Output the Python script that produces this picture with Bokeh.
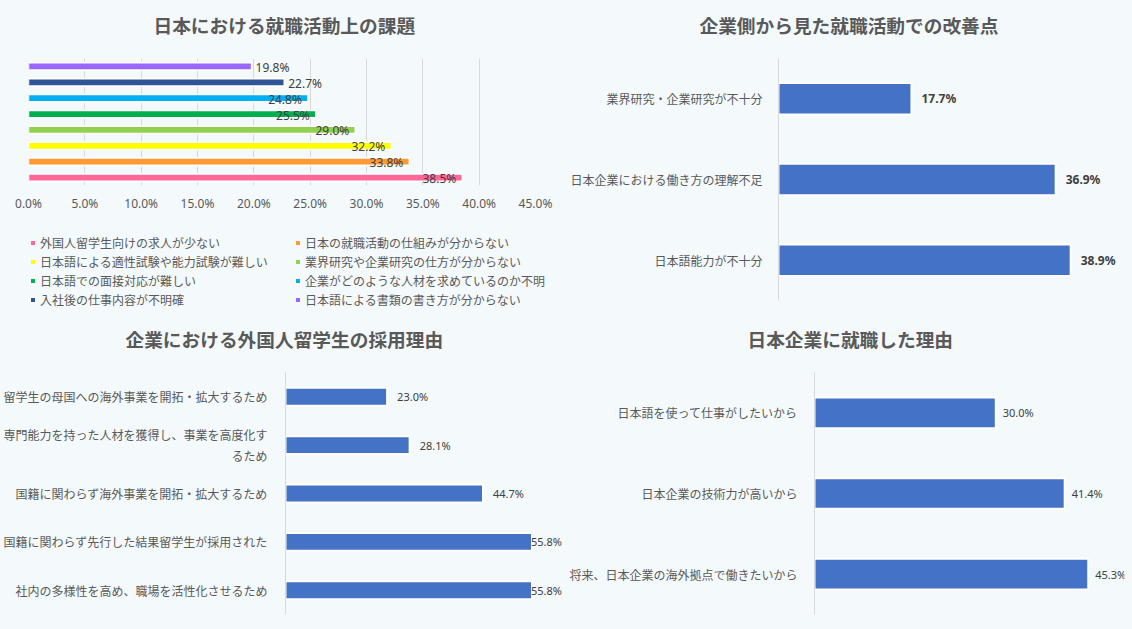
from bokeh.plotting import figure
from bokeh.models import ColumnDataSource, Legend, LegendItem, Title, FixedTicker, Range1d, FactorRange
from bokeh.layouts import row, column
from bokeh.embed import file_html
from bokeh.resources import INLINE
from bokeh.core.properties import value

BG = "#F4F9FC"
JP = "Noto Sans CJK JP"
NUM = "Noto Sans"
GRAY = "#595959"
DARK = "#404040"
BLUE = "#4472C4"

# ---------------- data ----------------
c1_title = "日本における就職活動上の課題"
c1_labels = [
    "外国人留学生向けの求人が少ない",
    "日本の就職活動の仕組みが分からない",
    "日本語による適性試験や能力試験が難しい",
    "業界研究や企業研究の仕方が分からない",
    "日本語での面接対応が難しい",
    "企業がどのような人材を求めているのか不明",
    "入社後の仕事内容が不明確",
    "日本語による書類の書き方が分からない",
]
c1_values = [38.5, 33.8, 32.2, 29.0, 25.5, 24.8, 22.7, 19.8]
c1_colors = ["#FF6699", "#FF9933", "#FFFF00", "#92D050", "#00B050", "#00B0F0", "#2F5597", "#9966FF"]
c1_ticks = [0, 5, 10, 15, 20, 25, 30, 35, 40, 45]

c2_title = "企業側から見た就職活動での改善点"
c2_labels = ["業界研究・企業研究が不十分", "日本企業における働き方の理解不足", "日本語能力が不十分"]
c2_values = [17.7, 36.9, 38.9]

c3_title = "企業における外国人留学生の採用理由"
c3_labels = [
    "留学生の母国への海外事業を開拓・拡大するため",
    "専門能力を持った人材を獲得し、事業を高度化す\nるため",
    "国籍に関わらず海外事業を開拓・拡大するため",
    "国籍に関わらず先行した結果留学生が採用された",
    "社内の多様性を高め、職場を活性化させるため",
]
c3_values = [23.0, 28.1, 44.7, 55.8, 55.8]

c4_title = "日本企業に就職した理由"
c4_labels = ["日本語を使って仕事がしたいから", "日本企業の技術力が高いから", "将来、日本企業の海外拠点で働きたいから"]
c4_values = [30.0, 41.4, 45.3]


def pct(v):
    return f"{v:.1f}%"


def style(p):
    p.background_fill_color = BG
    p.border_fill_color = BG
    p.outline_line_color = None
    p.ygrid.grid_line_color = None
    p.xgrid.grid_line_color = None
    for ax in (p.xaxis, p.yaxis):
        ax.axis_line_color = None
        ax.major_tick_line_color = None
        ax.minor_tick_line_color = None
        ax.major_label_text_color = GRAY
        ax.major_label_text_font_size = "12px"


def base_fig(w, h, x_end, factors, left, right, top, bottom):
    p = figure(width=w, height=h, output_backend="svg", toolbar_location=None,
               x_range=Range1d(0, x_end), y_range=FactorRange(factors=factors),
               min_border_left=left, min_border_right=right,
               min_border_top=top, min_border_bottom=bottom)
    style(p)
    return p


def add_title(p, text, offset, gap):
    # a thin blank spacer next to the frame, then the real title above it
    p.add_layout(Title(text=" ", text_font_size="1px", standoff=gap), "above")
    p.add_layout(Title(text=text, align="left", offset=offset, text_font=JP,
                       text_font_size="18.7px", text_font_style="bold", text_color=GRAY,
                       standoff=0, vertical_align="top"), "above")


# ---------------- chart 1 ----------------
p1 = base_fig(563, 216, 45, c1_labels, 28, 28, 58, 31)
add_title(p1, c1_title, 125, 16)
p1.yaxis.visible = False
p1.xaxis.ticker = FixedTicker(ticks=c1_ticks)
p1.xaxis.major_label_overrides = {t: pct(t) for t in c1_ticks}
p1.xaxis.major_label_standoff = 3
p1.xaxis.major_label_text_font = NUM
p1.xgrid.ticker = FixedTicker(ticks=c1_ticks)
p1.xgrid.grid_line_color = "#D9D9D9"

src1 = ColumnDataSource(dict(
    label=c1_labels, value=c1_values, color=c1_colors,
    txt=[pct(v) for v in c1_values],
    align=["left" if v < 24 else "right" for v in c1_values],
    xoff=[4 if v < 24 else -6 for v in c1_values],
))
p1.hbar(y="label", right="value", left=0, height=0.46, fill_color="color",
        line_color="white", line_width=1.5, source=src1)
p1.text(x="value", y="label", text="txt", text_align="align", x_offset="xoff", y_offset=1,
        text_baseline="middle", text_font=value(NUM), text_font_size="12px",
        text_color=DARK, source=src1)

# legend panel under chart 1 (its empty bars lie outside the range; only the legend shows)
pleg = figure(width=563, height=99, output_backend="svg", toolbar_location=None,
              x_range=Range1d(100, 200), y_range=FactorRange(factors=c1_labels),
              min_border_left=0, min_border_right=0, min_border_top=0, min_border_bottom=0)
style(pleg)
pleg.axis.visible = False
rleg = pleg.hbar(y="label", right="value", left="value", height=0, fill_color="color",
                 line_color=None, source=src1)
for col, xpos in ((0, 30), (1, 295)):
    items = [LegendItem(label=c1_labels[i], renderers=[rleg], index=i)
             for i in range(col, len(c1_labels), 2)]
    pleg.add_layout(Legend(items=items, location=(xpos, 7), orientation="vertical",
                           margin=0, padding=0, spacing=1, glyph_width=5, glyph_height=5,
                           label_standoff=5, label_height=18, label_text_font=JP,
                           label_text_font_size="12px", label_text_color=GRAY,
                           background_fill_alpha=0, border_line_alpha=0), "center")

# ---------------- chart 2 ----------------
p2 = base_fig(569, 315, 45, c2_labels[::-1], 215, 16, 58, 15)
add_title(p2, c2_title, -79, 16)
p2.xaxis.visible = False
p2.yaxis.axis_line_color = "#D9D9D9"
p2.yaxis.major_label_standoff = 10
p2.yaxis.major_label_text_font = JP
src2 = ColumnDataSource(dict(label=c2_labels, value=c2_values, txt=[pct(v) for v in c2_values]))
p2.hbar(y="label", right="value", left=0, height=0.39, fill_color=BLUE,
        line_color="white", line_width=2, source=src2)
p2.text(x="value", y="label", text="txt", x_offset=10, text_baseline="middle",
        text_font=value(NUM), text_font_size="12px", text_font_style="bold",
        text_color=DARK, source=src2)

# ---------------- chart 3 ----------------
p3 = base_fig(566, 314, 62.7, c3_labels[::-1], 284, 4, 57, 15)
add_title(p3, c3_title, -160, 16)
p3.xaxis.visible = False
p3.yaxis.axis_line_color = "#D9D9D9"
p3.yaxis.major_label_standoff = 12
p3.yaxis.major_label_text_font = JP
src3 = ColumnDataSource(dict(label=c3_labels, value=c3_values, txt=[pct(v) for v in c3_values],
                             xoff=[10 if v < 50 else -1 for v in c3_values]))
p3.hbar(y="label", right="value", left=0, height=0.37, fill_color=BLUE,
        line_color="white", line_width=2, source=src3)
p3.text(x="value", y="label", text="txt", x_offset="xoff", text_baseline="middle",
        text_font=value(NUM), text_font_size="11px", text_color=DARK, source=src3)

# ---------------- chart 4 ----------------
p4 = base_fig(566, 314, 51.3, c4_labels[::-1], 248, 8, 57, 15)
add_title(p4, c4_title, -67, 16)
p4.xaxis.visible = False
p4.yaxis.axis_line_color = "#D9D9D9"
p4.yaxis.major_label_standoff = 11
p4.yaxis.major_label_text_font = JP
src4 = ColumnDataSource(dict(label=c4_labels, value=c4_values, txt=[pct(v) for v in c4_values]))
p4.hbar(y="label", right="value", left=0, height=0.38, fill_color=BLUE,
        line_color="white", line_width=2, source=src4)
p4.text(x="value", y="label", text="txt", x_offset=7, text_baseline="middle",
        text_font=value(NUM), text_font_size="11px", text_color=DARK, source=src4)

layout = column(row(column(column(p1), column(pleg)), column(p2)),
                row(column(p3), column(p4)))
html = file_html(layout, INLINE)
html = html.replace("</head>", "<style>html,body{background:%s;}</style></head>" % BG, 1)
open("out.html", "w").write(html)
